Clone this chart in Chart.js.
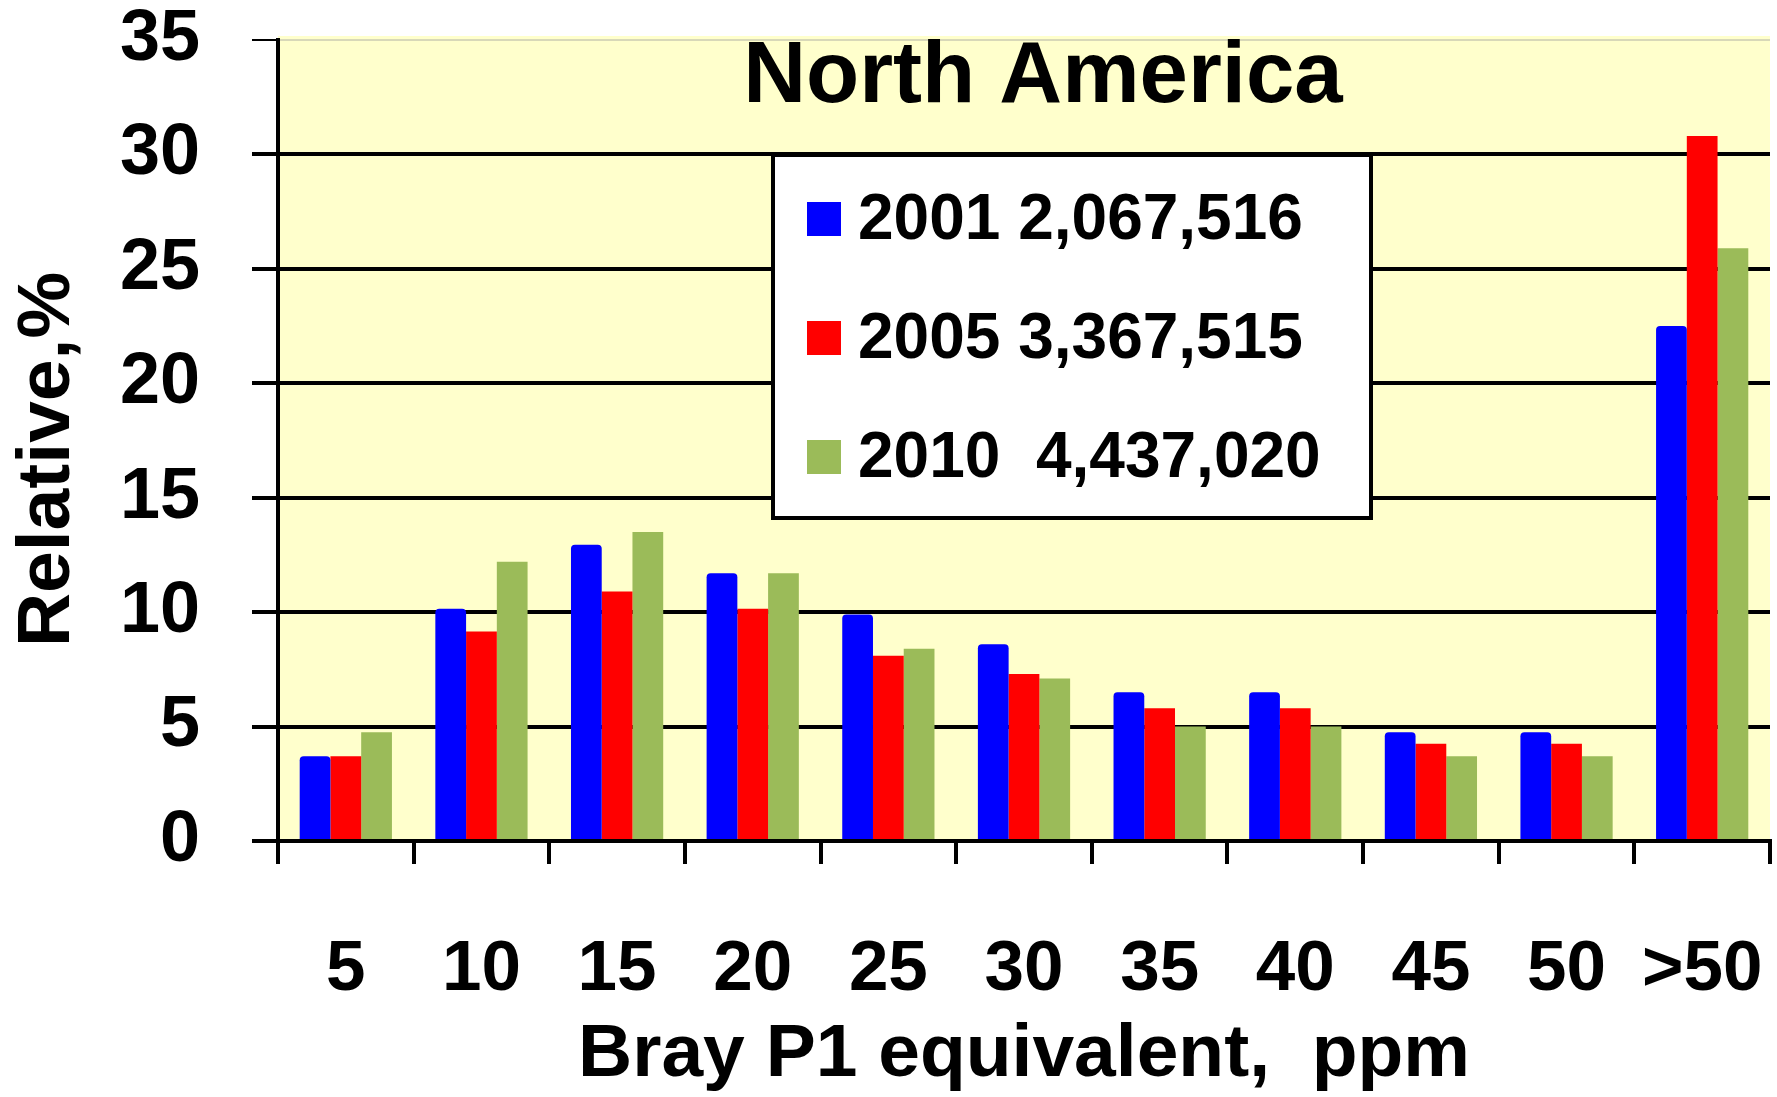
<!DOCTYPE html>
<html>
<head>
<meta charset="utf-8">
<script src="https://cdn.jsdelivr.net/npm/chart.js@4.4.0/dist/chart.umd.min.js"></script>
<style>
  html, body { margin: 0; padding: 0; background: #fff; }
  #wrap { width: 1777px; height: 1097px; }
</style>
</head>
<body>
<div id="wrap"><canvas id="chart" width="1777" height="1097"></canvas></div>
<script>
const categories = ["5", "10", "15", "20", "25", "30", "35", "40", "45", "50", ">50"];
const series2001 = [3.7, 10.15, 12.95, 11.7, 9.9, 8.6, 6.5, 6.5, 4.75, 4.75, 22.5];
const series2005 = [3.7, 9.15, 10.9, 10.15, 8.1, 7.3, 5.8, 5.8, 4.25, 4.25, 30.8];
const series2010 = [4.75, 12.2, 13.5, 11.7, 8.4, 7.1, 5.0, 5.0, 3.7, 3.7, 25.9];
const legendLabels = ["2001 2,067,516", "2005 3,367,515", "2010  4,437,020"];
const chartTitle = "North America";
const yTitle = "Relative,%";
const FONT = "'Liberation Sans', Arial, sans-serif";

// yellow plot background
const plotBackground = {
  id: "plotBackground",
  beforeDraw(chart) {
    const { ctx, chartArea: a } = chart;
    ctx.save();
    ctx.fillStyle = "#FFFFCC";
    ctx.fillRect(a.left, a.top - 4, a.right - a.left, a.bottom - a.top + 4);
    ctx.restore();
  }
};

// title, y title and boxed legend
const overlay = {
  id: "overlay",
  afterDraw(chart) {
    const { ctx, chartArea: a } = chart;
    ctx.save();
    ctx.fillStyle = "#000";
    ctx.font = "bold 87px " + FONT;
    ctx.textAlign = "center";
    ctx.textBaseline = "middle";
    ctx.fillText(chartTitle, (a.left + a.right) / 2 + 19, a.top + 38);

    // rotated y axis title, sits a little below the middle like the original
    ctx.save();
    ctx.translate(48, (a.top + a.bottom) / 2 + 19);
    ctx.rotate(-Math.PI / 2);
    ctx.font = "bold 75px " + FONT;
    ctx.fillText(yTitle, 0, 0);
    ctx.restore();

    const bx = 773, by = 155, bw = 598, bh = 363;
    ctx.fillStyle = "#fff";
    ctx.fillRect(bx, by, bw, bh);
    ctx.lineWidth = 4;
    ctx.strokeStyle = "#000";
    ctx.strokeRect(bx, by, bw, bh);

    ctx.font = "bold 64px " + FONT;
    ctx.textAlign = "left";
    chart.data.datasets.forEach((ds, i) => {
      const cy = by + 64 + i * 119;
      ctx.fillStyle = ds.backgroundColor;
      ctx.fillRect(bx + 34, cy - 17, 34, 34);
      ctx.fillStyle = "#000";
      ctx.fillText(ds.label, bx + 85, cy + 2);
    });
    ctx.restore();
  }
};

new Chart(document.getElementById("chart"), {
  type: "bar",
  data: {
    labels: categories,
    datasets: [
      { label: legendLabels[0], data: series2001, backgroundColor: "#0000FF", borderRadius: { topLeft: 4, topRight: 4 } },
      { label: legendLabels[1], data: series2005, backgroundColor: "#FF0000" },
      { label: legendLabels[2], data: series2010, backgroundColor: "#9BBB59" }
    ]
  },
  options: {
    responsive: false,
    animation: false,
    categoryPercentage: 0.68,
    barPercentage: 1.0,
    layout: { padding: { top: 40, right: 7, left: 0, bottom: 0 } },
    plugins: {
      legend: { display: false },
      title: { display: false },
      tooltip: { enabled: false }
    },
    scales: {
      x: {
        afterFit(scale) {
          scale.height = 256;
          scale.paddingLeft = 0;
          scale.paddingRight = 0;
        },
        ticks: { color: "#000", font: { family: FONT, size: 71, weight: "bold", lineHeight: 1 }, padding: 71, maxRotation: 0 },
        grid: { drawOnChartArea: false, tickLength: 23, lineWidth: 4, color: "#000", offset: true },
        border: { color: "#000", width: 4 },
        title: {
          display: true,
          text: "Bray P1 equivalent,  ppm",
          color: "#000",
          font: { family: FONT, size: 75, weight: "bold", lineHeight: 1 },
          padding: { top: 0, bottom: 4 }
        }
      },
      y: {
        min: 0,
        max: 35,
        afterFit(scale) {
          scale.width = 278;
          scale.paddingTop = 0;
          scale.paddingBottom = 0;
        },
        ticks: { stepSize: 5, color: "#000", font: { family: FONT, size: 72, weight: "bold", lineHeight: 1 }, padding: 52 },
        grid: {
          color: (c) => (c.tick && c.tick.value === 35 ? "#d8d8b8" : "#000"),
          tickColor: "#000",
          lineWidth: (c) => (c.tick && c.tick.value === 35 ? 2 : 4),
          tickLength: 26
        },
        border: { color: "#000", width: 4 }
      }
    }
  },
  plugins: [plotBackground, overlay]
});
</script>
</body>
</html>
